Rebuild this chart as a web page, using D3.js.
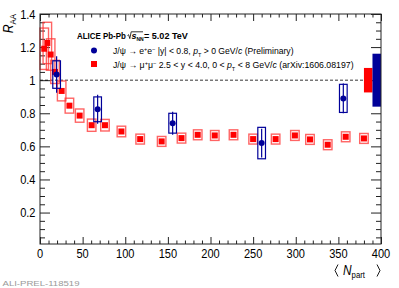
<!DOCTYPE html>
<html><head><meta charset="utf-8">
<script src="https://cdn.jsdelivr.net/npm/d3@7"></script>
<style>
body{margin:0;background:#fff}
text{font-family:"Liberation Sans",Arial,Helvetica,sans-serif}
</style>
</head><body><div id="dataviz-container"></div>
<script>
// J/psi -> mu+mu-, 2.5<y<4 (arXiv:1606.08197)
var muNpart = [5, 8.6, 12.5, 17.6, 25.4, 34.5, 46.5, 60.6, 76.2, 95.5, 117.5, 142.7, 166, 185, 205, 227, 250, 276.4, 299, 316.7, 337.5, 358.6, 380];
var muRaa   = [1.19, 1.225, 1.155, 1.05, 0.935, 0.846, 0.786, 0.728, 0.728, 0.69, 0.644, 0.63, 0.65, 0.67, 0.666, 0.67, 0.644, 0.644, 0.666, 0.642, 0.61, 0.658, 0.648];
var muSys   = [0.125, 0.125, 0.095, 0.07, 0.06, 0.045, 0.04, 0.037, 0.035, 0.032, 0.03, 0.03, 0.03, 0.03, 0.03, 0.03, 0.03, 0.03, 0.03, 0.03, 0.03, 0.03, 0.03];
// J/psi -> e+e-, |y|<0.8 (preliminary)
var eeNpart = [19.5, 67.6, 155.6, 260, 355.8];
var eeRaa   = [1.034, 0.824, 0.74, 0.62, 0.89];
var eeStat  = [0.11, 0.088, 0.07, 0.087, 0.09];
var eeSys   = [0.083, 0.075, 0.06, 0.095, 0.085];
// global (correlated) uncertainties around unity: [mu, ee]
var globalSys = [0.074, 0.16];

var xTicks = [0, 50, 100, 150, 200, 250, 300, 350, 400];
var yTicks = [0.2, 0.4, 0.6, 0.8, 1, 1.2, 1.4];

var W = 399, H = 288;
var mL = 40, mR = 381, mT = 14, mB = 244;
var red = '#ff0000', blue = '#000099';

var svg = d3.select('#dataviz-container').append('svg')
  .attr('width', W).attr('height', H);

var x = d3.scaleLinear().domain([0, 400]).range([mL, mR]);
var y = d3.scaleLinear().domain([0.01, 1.4]).range([mB, mT]);

var xMinor = d3.range(0, 401, 10).filter(function(v){ return v % 50 != 0; });
var yMinor = d3.range(1, 28).map(function(i){ return i * 0.05; }).filter(function(v){ return Math.abs(v / 0.2 - Math.round(v / 0.2)) > 0.01; });

// ticks on all four sides, pointing inwards (ROOT style)
function ticks(axis, vals, size, tr){
  svg.append('g').attr('transform', tr)
    .call(axis.tickValues(vals).tickSize(-size).tickSizeOuter(0).tickFormat(''))
    .call(function(g){ g.select('.domain').remove(); g.selectAll('line').attr('stroke', '#222'); });
}
ticks(d3.axisBottom(x), xTicks, 7, 'translate(0,' + mB + ')');
ticks(d3.axisBottom(x), xMinor, 3.5, 'translate(0,' + mB + ')');
ticks(d3.axisTop(x), xTicks, 7, 'translate(0,' + mT + ')');
ticks(d3.axisTop(x), xMinor, 3.5, 'translate(0,' + mT + ')');
ticks(d3.axisLeft(y), yTicks, 10, 'translate(' + mL + ',0)');
ticks(d3.axisLeft(y), yMinor, 5, 'translate(' + mL + ',0)');
ticks(d3.axisRight(y), yTicks, 10, 'translate(' + mR + ',0)');
ticks(d3.axisRight(y), yMinor, 5, 'translate(' + mR + ',0)');

// tick labels (font looks horizontally squeezed in the reference)
var sx = 0.82;
svg.selectAll('.xlab').data(xTicks).enter().append('text')
  .attr('transform', function(d){ return 'translate(' + x(d) + ',258) scale(' + sx + ',1)'; })
  .attr('text-anchor', 'middle').attr('font-size', 13.5).text(function(d){ return d; });
svg.selectAll('.ylab').data(yTicks).enter().append('text')
  .attr('transform', function(d){ return 'translate(35.5,' + (y(d) + 4.8) + ') scale(' + sx + ',1)'; })
  .attr('text-anchor', 'end').attr('font-size', 13.5).text(function(d){ return d; });

// axis titles
var yt = svg.append('text').attr('transform', 'translate(12.5,' + mT + ') rotate(-90) scale(' + sx + ',1)')
  .attr('text-anchor', 'end').attr('font-size', 15);
yt.append('tspan').attr('font-style', 'italic').text('R');
yt.append('tspan').attr('font-size', 9.5).attr('dy', 3).text('AA');

var xt = svg.append('text').attr('transform', 'translate(343,275) scale(' + sx + ',1)')
  .attr('font-size', 14.5);
xt.append('tspan').attr('font-style', 'italic').text('N');
xt.append('tspan').attr('font-size', 9.5).attr('dy', 3).text('part');
// angle brackets
svg.append('path').attr('d', 'M338,264.5 L335,270.5 L338,276.5 M377,264.5 L380,270.5 L377,276.5')
  .attr('fill', 'none').attr('stroke', '#000').attr('stroke-width', 0.9);

// reference line at unity
svg.append('line')
  .attr('x1', mL).attr('x2', x(380)).attr('y1', y(1)).attr('y2', y(1))
  .attr('stroke', '#000').attr('stroke-width', 0.8).attr('stroke-dasharray', '3,2');

// global uncertainty boxes at unity
svg.append('rect').attr('x', x(380)).attr('width', x(390) - x(380))
  .attr('y', y(1 + globalSys[0])).attr('height', y(1 - globalSys[0]) - y(1 + globalSys[0]))
  .attr('fill', red);
svg.append('rect').attr('x', x(390)).attr('width', x(400) - x(390))
  .attr('y', y(1 + globalSys[1])).attr('height', y(1 - globalSys[1]) - y(1 + globalSys[1]))
  .attr('fill', blue);

// muon points: systematic boxes + markers
var mu = muNpart.map(function(n, i){ return {n: n, r: muRaa[i], s: muSys[i]}; });
svg.append('g').selectAll('rect').data(mu).enter().append('rect')
  .attr('x', function(d){ return x(d.n - 5); })
  .attr('width', function(d){ return x(d.n + 5) - x(d.n - 5); })
  .attr('y', function(d){ return y(d.r + d.s); })
  .attr('height', function(d){ return y(d.r - d.s) - y(d.r + d.s); })
  .attr('fill', 'none').attr('stroke', '#ff3030').attr('stroke-opacity', 0.75).attr('stroke-width', 1.4);
svg.append('g').selectAll('rect').data(mu).enter().append('rect')
  .attr('x', function(d){ return x(d.n) - 3; }).attr('y', function(d){ return y(d.r) - 3; })
  .attr('width', 6).attr('height', 6).attr('fill', red);

// electron points: boxes, stat bars, markers
var ee = eeNpart.map(function(n, i){ return {n: n, r: eeRaa[i], st: eeStat[i], s: eeSys[i]}; });
var eg = svg.append('g');
eg.selectAll('rect').data(ee).enter().append('rect')
  .attr('x', function(d){ return x(d.n - 4.5); })
  .attr('width', function(d){ return x(d.n + 4.5) - x(d.n - 4.5); })
  .attr('y', function(d){ return y(d.r + d.s); })
  .attr('height', function(d){ return y(d.r - d.s) - y(d.r + d.s); })
  .attr('fill', 'none').attr('stroke', blue).attr('stroke-width', 1.2);
eg.selectAll('line').data(ee).enter().append('line')
  .attr('x1', function(d){ return x(d.n); }).attr('x2', function(d){ return x(d.n); })
  .attr('y1', function(d){ return y(d.r + d.st); }).attr('y2', function(d){ return y(d.r - d.st); })
  .attr('stroke', blue).attr('stroke-width', 1.2);
eg.selectAll('circle').data(ee).enter().append('circle')
  .attr('cx', function(d){ return x(d.n); }).attr('cy', function(d){ return y(d.r); })
  .attr('r', 3).attr('fill', blue);

// frame
svg.append('rect').attr('x', mL).attr('y', mT)
  .attr('width', mR - mL).attr('height', mB - mT)
  .attr('fill', 'none').attr('stroke', '#222').attr('stroke-width', 1);

// fit a text to a given width by squeezing it horizontally
function fit(t, x0, yy, width){
  var w = t.node().getComputedTextLength();
  t.attr('transform', 'translate(' + x0 + ',' + yy + ') scale(' + (width / w) + ',1)');
}

// legend
var hd = svg.append('g').attr('font-weight', 'bold').attr('font-size', 9);
fit(hd.append('text').text('ALICE Pb-Pb'), 77, 38.5, 49);
hd.append('path').attr('d', 'M127.5,35.5 L128.6,34.7 L129.8,38.6 L131.2,31.8 L143,31.8')
  .attr('fill', 'none').attr('stroke', '#000').attr('stroke-width', 0.8);
hd.append('text').attr('x', 131.5).attr('y', 38.5).attr('font-style', 'italic').text('s');
hd.append('text').attr('x', 136.5).attr('y', 40.5).attr('font-size', 5).text('NN');
fit(hd.append('text').text('= 5.02 TeV'), 144, 38.5, 44);

svg.append('circle').attr('cx', 94).attr('cy', 50.5).attr('r', 3).attr('fill', blue);
svg.append('rect').attr('x', 91).attr('y', 61).attr('width', 6).attr('height', 6).attr('fill', red);

function legLine(yy, parts, width){
  var t = svg.append('text').attr('font-size', 8.5).attr('x', 0).attr('y', 0);
  parts.forEach(function(p){
    var s = t.append('tspan').text(p[0]);
    if (p[1] == 'i') s.attr('font-style', 'italic');
    if (p[1] == 'sup') s.attr('font-size', 5.5).attr('dy', -3);
    if (p[1] == 'sub') s.attr('font-size', 5.5).attr('dy', 3);
    if (p[2]) s.attr('dy', p[2]);
  });
  fit(t, 113, yy, width);
}
legLine(54, [['J/\u03C8 \u2192 e'], ['+', 'sup'], ['e', '', 3], ['\u2212', 'sup'], ['  |y| < 0.8, ', '', 3], ['p', 'i'], ['T', 'sub'], [' > 0 GeV/', '', -3], ['c', 'i'], [' (Preliminary)']], 181);
legLine(68, [['J/\u03C8 \u2192 \u03BC'], ['+', 'sup'], ['\u03BC', '', 3], ['\u2212', 'sup'], ['  2.5 < y < 4.0, 0 < ', '', 3], ['p', 'i'], ['T', 'sub'], [' < 8  GeV/', '', -3], ['c', 'i'], [' (arXiv:1606.08197)']], 241);

// preliminary tag
svg.append('text').attr('x', 2.5).attr('y', 285.5)
  .attr('font-family', '"Liberation Mono", "DejaVu Sans Mono", monospace')
  .attr('font-size', 8).attr('fill', '#999').attr('textLength', 77).attr('lengthAdjust', 'spacingAndGlyphs')
  .text('ALI-PREL-118519');
</script>
</body></html>
